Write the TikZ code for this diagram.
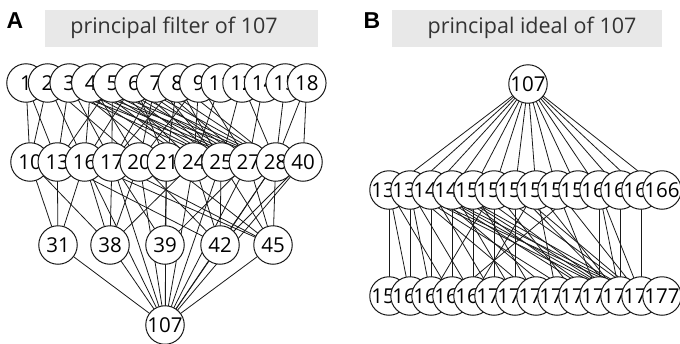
\documentclass[tikz,border=0pt]{standalone}
\usepackage{fontspec}
\setmainfont{Open Sans}
\newfontfamily\panelfont{Liberation Sans}
\pgfdeclarelayer{bg}
\pgfsetlayers{bg,main}
\begin{document}
\begin{tikzpicture}[x=1pt,y=-1pt,
  vtx/.style={circle,draw=black!90,line width=1pt,fill=white,minimum size=38.5pt,inner sep=0pt,font=\fontsize{20.5}{20.5}\selectfont},
  lnk/.style={line width=0.8pt,black!90},
  ttlbox/.style={fill=black!9,draw=none},
  ttltext/.style={font=\fontsize{21.5}{21.5}\selectfont,text=black!80,inner sep=0pt},
  panel/.style={font=\panelfont\bfseries\fontsize{23}{23}\selectfont,inner sep=0pt}
]
\useasboundingbox (0,0) rectangle (680,343);
% titles
\node[panel] (pa) at (15,21) {A};
\node[panel] (pb) at (372,21) {B};
\fill[ttlbox] (45,10) rectangle (318,47);
\fill[ttlbox] (392,10) rectangle (662,47);
\node[ttltext] (ta) at (174,28) {principal filter of 107};
\node[ttltext] (tb) at (532,28) {principal ideal of 107};

% ---------- panel A nodes ----------
\foreach \l [count=\i] in {1,2,3,4,5,6,7,8,9,11,12,14,15,18}
  \node[vtx] (t\i) at ({26+21.6*(\i-1)},83) {\l};
\foreach \l [count=\i] in {10,13,16,17,20,21,24,25,27,28,40}
  \node[vtx] (m\i) at ({30+27.3*(\i-1)},162) {\l};
\foreach \l/\x [count=\i] in {31/58,38/110,39/165,42/220,45/273}
  \node[vtx] (l\i) at (\x,245) {\l};
\node[vtx] (bot) at (165,325) {107};

% ---------- panel B nodes ----------
\node[vtx] (top) at (528,84) {107};
\foreach \l [count=\i] in {131,136,141,147,150,151,153,154,156,158,160,163,165,166}
  \node[vtx] (r\i) at ({389+21*(\i-1)},190) {\l};
\foreach \l [count=\i] in {155,160,161,162,168,170,171,172,173,174,175,176,178,177}
  \node[vtx] (s\i) at ({389+21*(\i-1)},296) {\l};

% ---------- edges ----------
\begin{pgfonlayer}{bg}
% A: top row to middle row
\foreach \a/\b in {t1/m1,t1/m2,
  t2/m1,t2/m3,t2/m5,t2/m9,t2/m8,
  t3/m2,t3/m4,t3/m6,t3/m8,t3/m9,t3/m10,t3/m7,
  t4/m3,t4/m5,t4/m7,t4/m8,t4/m9,t4/m10,
  t5/m2,t5/m4,t5/m8,t5/m9,t5/m10,t5/m7,
  t6/m3,t6/m6,t6/m8,t6/m9,t6/m10,
  t7/m4,t7/m5,t7/m9,t7/m10,t7/m8,
  t8/m4,t8/m6,t8/m8,t8/m10,
  t9/m5,t9/m7,t9/m9,
  t10/m7,t11/m8,t11/m10,t12/m9,t13/m10,t14/m10,t14/m11}
  \draw[lnk] (\a.center) -- (\b.center);
% A: middle row to lower row
\foreach \a/\b in {m1/l1,m1/l2,m2/l1,m2/l4,m3/l1,m3/l2,m3/l5,
  m4/l2,m4/l3,m4/l5,m5/l2,m5/l4,m6/l3,m6/l5,m7/l2,m7/l4,
  m8/l4,m8/l5,m9/l3,m9/l5,m10/l4,m10/l5,m11/l4}
  \draw[lnk] (\a.center) -- (\b.center);
% A: to the bottom node
\foreach \a in {l1,l2,l3,l4,l5,m3,m4,m5,m6,m7,m8,m9,m10,m11}
  \draw[lnk] (\a.center) -- (bot.center);
% B: top node to second row
\foreach \i in {1,...,14}
  \draw[lnk] (top.center) -- (r\i.center);
% B: second row to third row
\foreach \a/\b in {r1/s1,r1/s2,r1/s4,
  r2/s2,r2/s3,r2/s5,r2/s8,r2/s10,r2/s12,r2/s13,
  r3/s3,r3/s6,r3/s9,r3/s11,r3/s12,r3/s13,
  r4/s4,r4/s7,r4/s11,r4/s13,r4/s12,
  r5/s5,r5/s8,r5/s12,
  r6/s3,r6/s6,r6/s10,r6/s13,
  r7/s7,r7/s12,r7/s13,
  r8/s5,r8/s9,r8/s12,
  r9/s11,r9/s13,
  r10/s4,r11/s11,r11/s12,r11/s13,r12/s12,r13/s13}
  \draw[lnk] (\a.center) -- (\b.center);
\end{pgfonlayer}
\end{tikzpicture}
\end{document}
